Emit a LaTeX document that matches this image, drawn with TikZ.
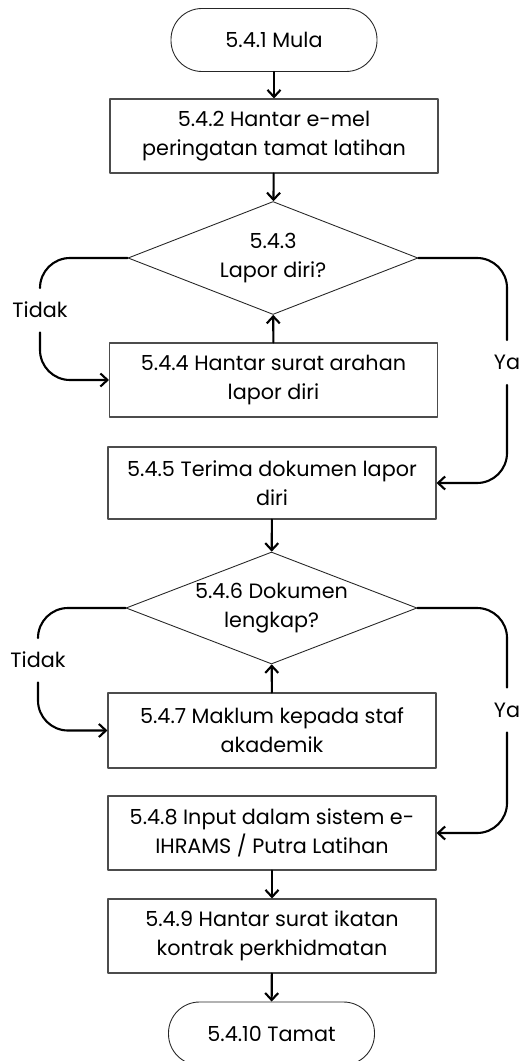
\documentclass[tikz,border=0pt]{standalone}
\usepackage{fontspec}
\setmainfont{Poppins}
\usetikzlibrary{arrows.meta,shapes.geometric}

\begin{document}
\begin{tikzpicture}[line cap=round,line join=round,>={Straight Barb[length=1.4mm,width=2.6mm]},
  every node/.style={inner sep=1pt,font=\fontsize{11.8}{16.4}\selectfont},
  terminal/.style={draw=black!85,line width=0.5pt,rounded corners=0.62cm,minimum width=4.12cm,minimum height=1.26cm},
  stepbox/.style={draw=black!70,line width=0.6pt,minimum width=6.56cm,minimum height=1.48cm,align=center},
  choice/.style={diamond,draw=black!85,line width=0.5pt,shape aspect=2.57,minimum width=5.8cm,minimum height=2.26cm,inner sep=0pt,align=center},
  answer/.style={inner sep=0pt,minimum height=0.88cm},
  flow/.style={->,line width=1.2pt},
  loopline/.style={line width=1.2pt,rounded corners=0.6cm}]
  \useasboundingbox (0,0) rectangle (10.36,-21.22);
  % main column
  \node[terminal] (mula) at (5.48,-0.80) {5.4.1 Mula};
  \node[stepbox] (hantar) at (5.48,-2.72) {5.4.2 Hantar e-mel\\peringatan tamat latihan};
  \node[choice] (lapor) at (5.46,-5.16) {5.4.3\\Lapor diri?};
  \node[stepbox] (arahan) at (5.47,-7.60) {5.4.4 Hantar surat arahan\\lapor diri};
  \node[stepbox,minimum height=1.44cm] (terima) at (5.44,-9.66) {5.4.5 Terima dokumen lapor\\diri};
  \node[choice,minimum width=5.82cm,minimum height=2.24cm] (lengkap) at (5.43,-12.16) {5.4.6 Dokumen\\lengkap?};
  \node[stepbox,minimum height=1.50cm] (maklum) at (5.44,-14.61) {5.4.7 Maklum kepada staf\\akademik};
  \node[stepbox] (input) at (5.44,-16.66) {5.4.8 Input dalam sistem e-\\IHRAMS / Putra Latihan};
  \node[stepbox] (ikatan) at (5.44,-18.72) {5.4.9 Hantar surat ikatan\\kontrak perkhidmatan};
  \node[terminal] (tamat) at (5.43,-20.67) {5.4.10 Tamat};
  % answers
  \node[answer] (tidakA) at (0.80,-6.20) {Tidak};
  \node[answer] (yaA) at (10.14,-7.25) {Ya};
  \node[answer] (tidakB) at (0.76,-13.20) {Tidak};
  \node[answer] (yaB) at (10.14,-14.20) {Ya};
  % arrows
  \draw[flow] (mula) -- (hantar);
  \draw[flow] (hantar) -- (lapor);
  \draw[flow] (arahan) -- (lapor);
  \draw[flow] (terima) -- (lengkap);
  \draw[flow] (maklum) -- (lengkap);
  \draw[flow] (input) -- (ikatan);
  \draw[flow] (ikatan) -- (tamat);
  \draw[loopline] (lapor.west) -| (tidakA.north);
  \draw[loopline,->] (tidakA.south) |- (arahan.west);
  \draw[loopline] (lapor.east) -| (yaA.north);
  \draw[loopline,->] (yaA.south) |- (terima.east);
  \draw[loopline] (lengkap.west) -| (tidakB.north);
  \draw[loopline,->] (tidakB.south) |- (maklum.west);
  \draw[loopline] (lengkap.east) -| (yaB.north);
  \draw[loopline,->] (yaB.south) |- (input.east);
\end{tikzpicture}
\end{document}
